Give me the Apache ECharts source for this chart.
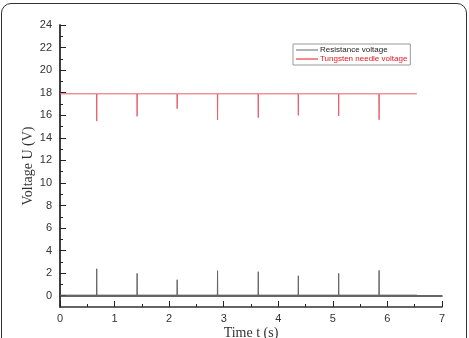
<!DOCTYPE html>
<html>
<head>
<meta charset="utf-8">
<script src="https://cdn.jsdelivr.net/npm/echarts@6/dist/echarts.min.js"></script>
<style>
	html, body { margin: 0; padding: 0; background: #fff; }
	#frame { position: absolute; left: 1px; top: 3px; width: 466px; height: 345px; border: 1px solid #333; border-radius: 10px; box-sizing: border-box; }
	#chart { width: 469px; height: 338px; position: absolute; left: 0; top: 0; }
</style>
</head>
<body>
<div id="frame"></div>
<div id="chart"></div>
<script>
// spike times (s)
var spikeTimes = [0.673, 1.413, 2.147, 2.887, 3.633, 4.367, 5.107, 5.847]
var endTime = 6.54

// resistance voltage: baseline and spike peaks (V)
var resBase = 0.05
var resPeaks = [2.39, 1.98, 1.42, 2.22, 2.13, 1.77, 1.98, 2.25]

// tungsten needle voltage: baseline and dip minima (V)
var needleBase = 17.9
var needleDips = [15.48, 15.9, 16.58, 15.58, 15.78, 15.99, 15.93, 15.6]

var yTicks = [0, 2, 4, 6, 8, 10, 12, 14, 16, 18, 20, 22, 24]
var yMinor = [1, 3, 5, 7, 9, 11, 13, 15, 17, 19, 21, 23]

function spikeLine(base, peaks) {
	var pts = [[0, base]]
	for (var i = 0; i < spikeTimes.length; i++) {
		pts.push([spikeTimes[i] - 0.004, base])
		pts.push([spikeTimes[i], peaks[i]])
		pts.push([spikeTimes[i] + 0.004, base])
	}
	pts.push([endTime, base])
	return pts
}

var chart = echarts.init(document.getElementById('chart'))
var axisColor = '#333'
var frameAxis = { show: true, lineStyle: { color: axisColor, width: 1.5 } }
var option = {
	animation: false,
	grid: { left: 60, right: 27, top: 25, bottom: 31, outerBoundsMode: 'none' },
	legend: {
		left: 293, top: 44,
		orient: 'vertical',
		itemGap: 1,
		itemWidth: 22, itemHeight: 1,
		padding: [2, 3, 2, 3],
		borderColor: '#999', borderWidth: 1,
		textStyle: { fontFamily: 'Liberation Sans', fontSize: 8, padding: [0, 0, 0, -3] },
		data: [
			{ name: 'Resistance voltage', icon: 'rect', textStyle: { color: '#222' } },
			{ name: 'Tungsten needle voltage', icon: 'rect', textStyle: { color: '#e8141e' } }
		]
	},
	xAxis: [{
		type: 'value', min: 0, max: 7, interval: 1,
		name: 'Time t (s)', nameLocation: 'middle', nameGap: 19, nameMoveOverlap: false,
		nameTextStyle: { fontFamily: 'Liberation Serif', fontSize: 14, color: '#333' },
		axisLine: { onZero: false, lineStyle: { color: axisColor, width: 1.5 } },
		axisTick: { inside: true, length: 6, lineStyle: { color: '#222', width: 1 } },
		minorTick: { show: true, splitNumber: 2, length: 3, lineStyle: { color: '#222', width: 1 } },
		axisLabel: { color: '#333', fontFamily: 'Liberation Sans', fontSize: 11, margin: 6 },
		splitLine: { show: false }
	}, {
		type: 'value', min: 0, max: 7, position: 'top',
		axisLine: frameAxis,
		axisTick: { show: false }, axisLabel: { show: false }, splitLine: { show: false }
	}],
	yAxis: [{
		type: 'value', min: -1, max: 24,
		name: 'Voltage U (V)', nameLocation: 'middle', nameGap: 25, nameMoveOverlap: false,
		nameTextStyle: { fontFamily: 'Liberation Serif', fontSize: 14, color: '#333' },
		axisLine: { show: true, onZero: false, lineStyle: { color: axisColor, width: 1.5 } },
		axisTick: { show: true, inside: true, length: 6, lineStyle: { color: '#222', width: 1 }, customValues: yTicks },
		axisLabel: { color: '#333', fontFamily: 'Liberation Sans', fontSize: 11, margin: 8, customValues: yTicks },
		splitLine: { show: false }
	}, {
		// minor ticks on the left side
		type: 'value', min: -1, max: 24, position: 'left', offset: 0,
		axisLine: { show: false },
		axisTick: { show: true, inside: true, length: 3, lineStyle: { color: '#222', width: 1 }, customValues: yMinor },
		axisLabel: { show: false, customValues: yMinor }, splitLine: { show: false }
	}, {
		type: 'value', min: -1, max: 24, position: 'right',
		axisLine: frameAxis,
		axisTick: { show: false }, axisLabel: { show: false }, splitLine: { show: false }
	}],
	series: [{
		name: 'Resistance voltage', type: 'line', showSymbol: false,
		color: '#666', lineStyle: { width: 1, color: '#666' },
		data: spikeLine(resBase, resPeaks)
	}, {
		name: 'Tungsten needle voltage', type: 'line', showSymbol: false,
		color: '#e8141e', lineStyle: { width: 1, color: '#e4606a' },
		data: spikeLine(needleBase, needleDips)
	}]
}
chart.setOption(option)
</script>
</body>
</html>
